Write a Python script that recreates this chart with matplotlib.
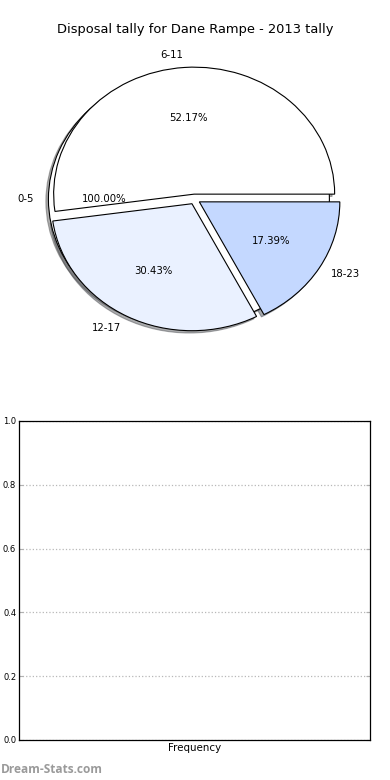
import numpy as np
import matplotlib
matplotlib.use("Agg")
import matplotlib.pyplot as plt

# Disposal tally per bucket (0-5 bucket has no games)
categories = ['0-5', '6-11', '12-17', '18-23']
tallies = [0, 12, 7, 4]
slice_colors = ['#ffffff', '#ffffff', '#eaf1ff', '#c4d8ff']
freq_ticks = [0.0, 0.2, 0.4, 0.6, 0.8, 1.0]

title = 'Disposal tally for Dane Rampe - 2013 tally'

fig = plt.figure(figsize=(3.9, 7.8), dpi=100)

# --- pie ---
ax_pie = fig.add_axes([0.0485, 0.5411, 0.9006, 0.407])
wprops = dict(edgecolor='black', linewidth=0.8)
tprops = dict(fontsize=7.3)
shadow = dict(ox=-0.013, oy=-0.013, alpha=0.45)

# empty buckets get rendered as a full disc underneath (like the original)
empty = [c for c, v in zip(categories, tallies) if v == 0]
for c in empty:
    ax_pie.pie([1], labels=[c], explode=[0.04], autopct='%.2f%%', shadow=shadow,
               colors=[slice_colors[categories.index(c)]], wedgeprops=wprops,
               textprops=tprops, labeldistance=1.1, pctdistance=0.6)

used = [i for i, v in enumerate(tallies) if v > 0]
ax_pie.pie([tallies[i] for i in used], labels=[categories[i] for i in used],
           explode=[0.04] * len(used), autopct='%.2f%%', shadow=shadow,
           colors=[slice_colors[i] for i in used], wedgeprops=wprops,
           textprops=tprops, labeldistance=1.1, pctdistance=0.6)
ax_pie.set_aspect('auto')
ax_pie.set_xlim(-1.25, 1.25)
ax_pie.set_ylim(-1.25, 1.25)
ax_pie.axis('off')

fig.text(0.5, 1 - 30 / 780, title, ha='center', va='center', fontsize=9.4)

# --- empty frequency chart ---
ax_bar = fig.add_axes([0.0487, 0.0513, 0.9, 0.409])
ax_bar.set_ylim(0, 1)
ax_bar.set_xlim(0, 1)
ax_bar.set_yticks(freq_ticks)
ax_bar.set_yticklabels(['%.1f' % t for t in freq_ticks])
ax_bar.set_xticks([])
ax_bar.tick_params(axis='y', direction='in', length=3, color='#b0b0b0',
                   labelsize=6, right=True, pad=2)
ax_bar.yaxis.grid(True, linestyle=':', color='#b8b8b8', linewidth=0.9)
for s in ax_bar.spines.values():
    s.set_linewidth(0.9)
ax_bar.set_xlabel('Frequency', fontsize=7.4, labelpad=2)

fig.text(0.001, 0.013, 'Dream-Stats.com', fontsize=8.6, color='#9a9a9a',
         family='Open Sans', weight='bold', ha='left', va='center')

fig.savefig('out.png', dpi=100)
